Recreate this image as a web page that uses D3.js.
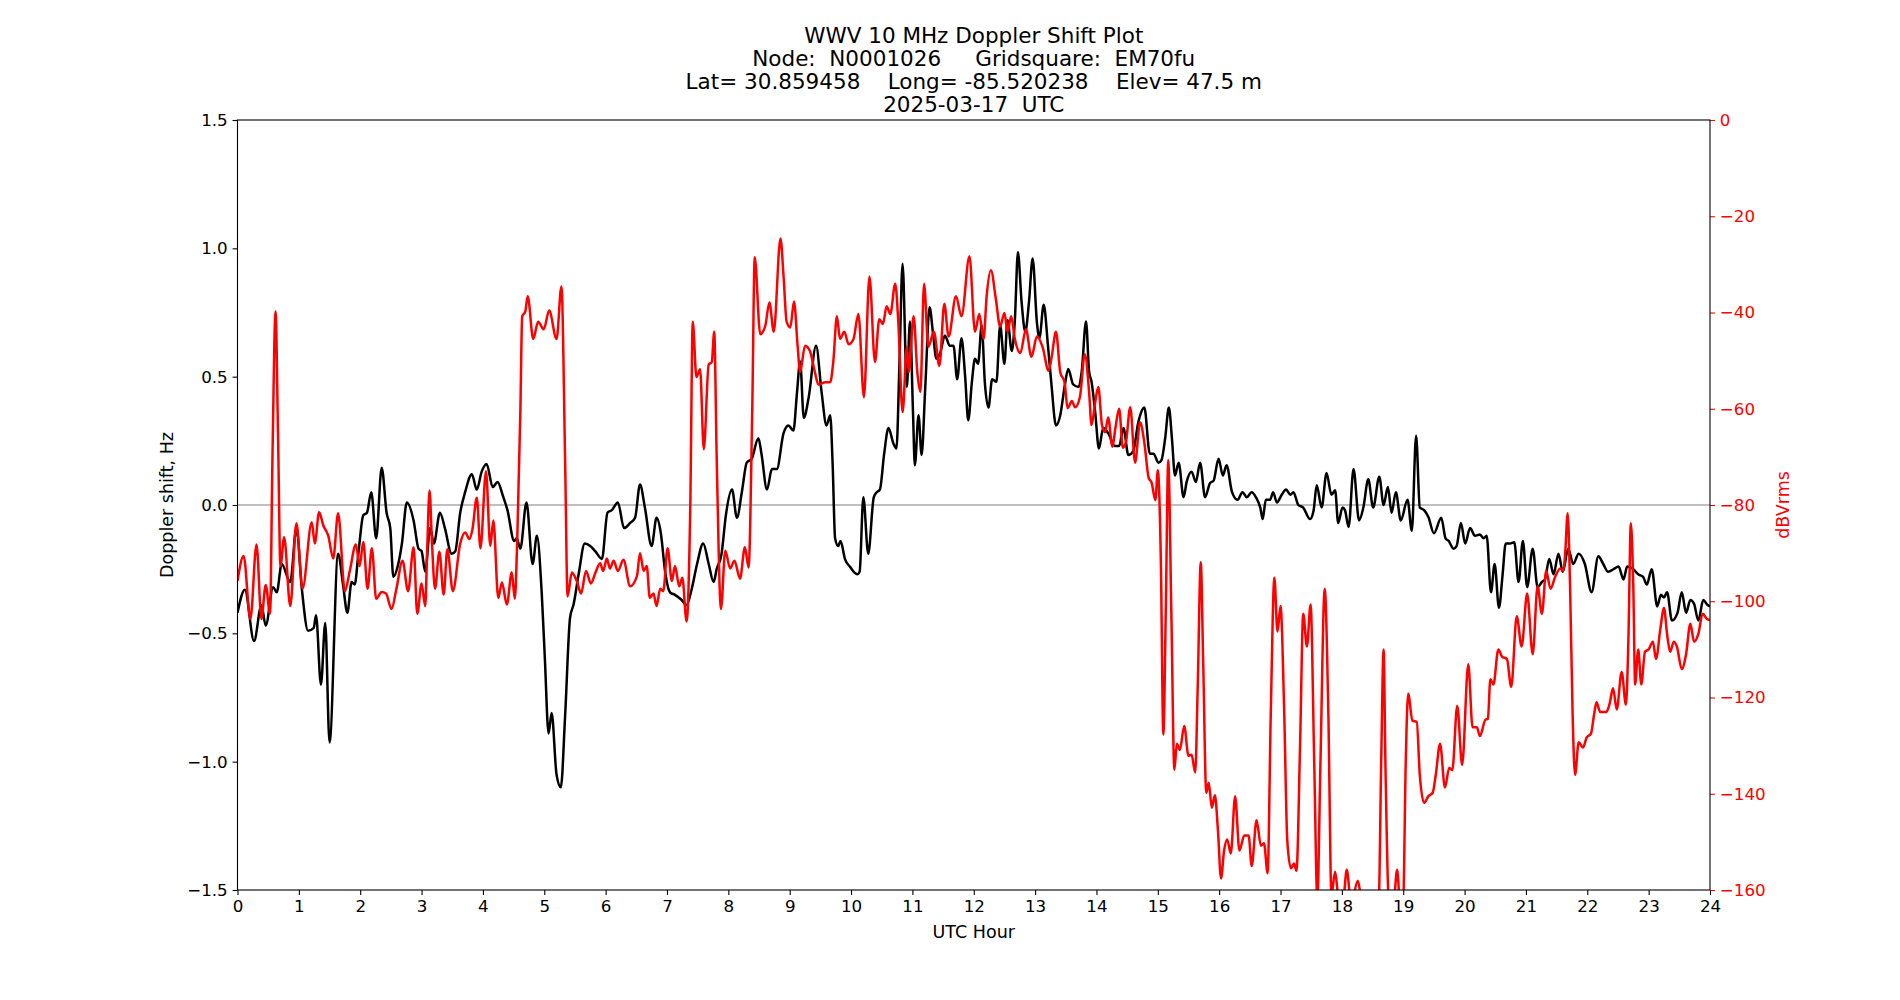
<!DOCTYPE html>
<html>
<head>
<meta charset="utf-8">
<script src="https://cdn.jsdelivr.net/npm/d3@7"></script>
<style>
  body { margin: 0; background: #fff; }
  text { font-family: "DejaVu Sans", sans-serif; }
</style>
</head>
<body>
<div id="chart"></div>
<script>
////////////////////////////////////////////////////////////////////////
// Data: [UTC hour, value]

// Doppler shift (Hz), black trace, left axis
const dopplerPoints = [
  [0.00,-0.42],[0.12,-0.33],[0.27,-0.53],[0.39,-0.39],[0.46,-0.47],[0.58,-0.32],[0.64,-0.34],
  [0.72,-0.23],[0.86,-0.30],[0.96,-0.09],[1.05,-0.33],[1.15,-0.49],[1.24,-0.48],[1.28,-0.43],
  [1.36,-0.70],[1.43,-0.46],[1.50,-0.925],[1.64,-0.19],[1.72,-0.31],[1.79,-0.42],[1.86,-0.30],
  [1.91,-0.31],[1.97,-0.19],[2.05,-0.04],[2.11,-0.03],[2.18,0.05],[2.26,-0.13],[2.35,0.145],
  [2.43,-0.03],[2.49,-0.09],[2.54,-0.28],[2.62,-0.23],[2.68,-0.15],[2.76,0.01],[2.87,-0.06],
  [2.95,-0.17],[3.00,-0.18],[3.06,-0.26],[3.14,-0.09],[3.20,-0.15],[3.30,-0.03],[3.38,-0.09],
  [3.49,-0.19],[3.55,-0.18],[3.63,-0.03],[3.71,0.05],[3.82,0.12],[3.90,0.06],[3.98,0.13],
  [4.06,0.16],[4.16,0.07],[4.24,0.09],[4.32,0.04],[4.40,-0.02],[4.51,-0.14],[4.55,-0.13],
  [4.61,-0.17],[4.71,0.01],[4.81,-0.23],[4.88,-0.12],[4.96,-0.35],[5.01,-0.60],[5.07,-0.89],
  [5.12,-0.81],[5.20,-1.05],[5.27,-1.10],[5.34,-0.82],[5.42,-0.44],[5.48,-0.385],[5.56,-0.27],
  [5.66,-0.15],[5.75,-0.16],[5.83,-0.18],[5.94,-0.21],[6.03,-0.03],[6.10,-0.02],[6.20,0.01],
  [6.30,-0.09],[6.40,-0.07],[6.48,-0.05],[6.56,0.08],[6.64,-0.01],[6.75,-0.16],[6.83,-0.05],
  [6.90,-0.11],[6.97,-0.26],[7.05,-0.34],[7.13,-0.35],[7.24,-0.37],[7.32,-0.39],[7.40,-0.33],
  [7.49,-0.23],[7.59,-0.15],[7.68,-0.23],[7.76,-0.30],[7.81,-0.25],[7.89,-0.19],[7.96,-0.04],
  [8.06,0.06],[8.14,-0.05],[8.22,0.05],[8.30,0.165],[8.38,0.18],[8.49,0.26],[8.54,0.20],
  [8.63,0.06],[8.71,0.14],[8.79,0.14],[8.90,0.28],[8.98,0.31],[9.06,0.29],[9.12,0.44],
  [9.17,0.56],[9.23,0.34],[9.31,0.42],[9.43,0.62],[9.52,0.44],[9.60,0.31],[9.66,0.35],
  [9.70,0.16],[9.74,-0.13],[9.79,-0.16],[9.83,-0.14],[9.90,-0.21],[9.98,-0.24],[10.10,-0.27],
  [10.14,-0.26],[10.20,0.03],[10.28,-0.19],[10.37,0.03],[10.42,0.05],[10.47,0.06],[10.54,0.20],
  [10.61,0.30],[10.69,0.24],[10.74,0.22],[10.79,0.56],[10.84,0.94],[10.91,0.46],[10.96,0.715],
  [11.01,0.36],[11.04,0.155],[11.10,0.35],[11.15,0.195],[11.21,0.46],[11.28,0.77],[11.34,0.66],
  [11.39,0.57],[11.45,0.59],[11.53,0.66],[11.61,0.62],[11.67,0.62],[11.73,0.49],[11.80,0.65],
  [11.86,0.50],[11.91,0.33],[11.97,0.48],[12.02,0.57],[12.07,0.55],[12.13,0.70],[12.18,0.48],
  [12.24,0.38],[12.30,0.49],[12.37,0.48],[12.43,0.70],[12.50,0.55],[12.55,0.72],[12.62,0.60],
  [12.67,0.72],[12.72,0.985],[12.78,0.79],[12.84,0.675],[12.90,0.79],[12.96,0.96],[13.03,0.71],
  [13.07,0.65],[13.14,0.78],[13.21,0.62],[13.27,0.46],[13.34,0.31],[13.41,0.35],[13.48,0.46],
  [13.54,0.53],[13.62,0.47],[13.71,0.46],[13.76,0.52],[13.83,0.715],[13.88,0.52],[13.92,0.48],
  [13.98,0.36],[14.04,0.22],[14.11,0.30],[14.19,0.28],[14.30,0.23],[14.37,0.23],[14.44,0.30],
  [14.52,0.195],[14.60,0.21],[14.68,0.32],[14.78,0.38],[14.87,0.20],[14.93,0.20],[15.01,0.165],
  [15.06,0.175],[15.12,0.26],[15.18,0.38],[15.23,0.26],[15.28,0.115],[15.34,0.165],[15.42,0.03],
  [15.47,0.09],[15.55,0.13],[15.62,0.09],[15.69,0.165],[15.77,0.03],[15.85,0.085],[15.91,0.095],
  [15.99,0.18],[16.06,0.115],[16.12,0.155],[16.21,0.05],[16.30,0.02],[16.38,0.05],[16.45,0.03],
  [16.53,0.05],[16.60,0.03],[16.67,-0.01],[16.71,-0.055],[16.76,0.02],[16.83,0.02],[16.88,0.05],
  [16.94,0.01],[17.02,0.04],[17.09,0.06],[17.16,0.04],[17.21,0.05],[17.29,0.00],[17.37,-0.01],
  [17.48,-0.055],[17.54,-0.02],[17.59,0.077],[17.67,-0.01],[17.75,0.125],[17.83,0.04],[17.89,0.057],
  [17.94,-0.07],[18.01,-0.01],[18.05,-0.02],[18.11,-0.086],[18.19,0.14],[18.28,-0.06],[18.35,-0.01],
  [18.43,0.10],[18.51,-0.01],[18.61,0.11],[18.68,0.00],[18.75,0.07],[18.81,-0.03],[18.88,0.05],
  [18.96,-0.06],[19.07,0.02],[19.14,-0.10],[19.21,0.27],[19.27,-0.01],[19.34,-0.02],[19.41,-0.047],
  [19.50,-0.11],[19.62,-0.05],[19.69,-0.13],[19.74,-0.14],[19.82,-0.17],[19.87,-0.16],[19.94,-0.07],
  [20.01,-0.15],[20.09,-0.09],[20.17,-0.12],[20.25,-0.115],[20.31,-0.13],[20.36,-0.12],[20.43,-0.34],
  [20.49,-0.23],[20.56,-0.40],[20.62,-0.27],[20.67,-0.15],[20.74,-0.15],[20.81,-0.145],[20.88,-0.30],
  [20.95,-0.14],[21.02,-0.32],[21.11,-0.17],[21.19,-0.32],[21.26,-0.30],[21.31,-0.29],[21.38,-0.21],
  [21.45,-0.27],[21.53,-0.19],[21.60,-0.26],[21.69,-0.17],[21.77,-0.23],[21.86,-0.19],[21.96,-0.23],
  [22.07,-0.34],[22.18,-0.20],[22.26,-0.23],[22.34,-0.26],[22.43,-0.25],[22.51,-0.24],[22.59,-0.29],
  [22.65,-0.24],[22.75,-0.25],[22.83,-0.27],[22.91,-0.28],[22.97,-0.31],[23.05,-0.25],[23.14,-0.395],
  [23.20,-0.35],[23.25,-0.36],[23.30,-0.34],[23.38,-0.45],[23.47,-0.42],[23.54,-0.34],[23.61,-0.42],
  [23.68,-0.37],[23.74,-0.385],[23.81,-0.45],[23.89,-0.37],[23.96,-0.39],[24.00,-0.395]
];

// Signal level (dBVrms), red trace, right axis
const signalPoints = [
  [0.00,-95.8],[0.10,-90.6],[0.21,-103.7],[0.31,-88.2],[0.39,-103.7],[0.46,-96.6],[0.53,-102.6],
  [0.57,-70],[0.62,-39.8],[0.66,-65],[0.70,-92.7],[0.76,-86.7],[0.86,-101],[0.96,-83.8],
  [1.06,-97.4],[1.21,-83.6],[1.26,-88],[1.33,-81.5],[1.40,-84.3],[1.48,-86.4],[1.56,-91.1],
  [1.64,-81.7],[1.75,-97.9],[1.83,-93.7],[1.93,-88.2],[1.99,-92.7],[2.05,-87.7],[2.12,-97.4],
  [2.19,-89],[2.26,-99.5],[2.35,-98.1],[2.42,-98.4],[2.51,-101.6],[2.59,-97.4],[2.69,-91.6],
  [2.78,-97.9],[2.87,-88.8],[2.93,-102.6],[3.00,-96.3],[3.06,-101],[3.09,-90],[3.13,-77],
  [3.17,-88],[3.22,-97.4],[3.29,-89.7],[3.36,-98.6],[3.42,-89.2],[3.51,-97.9],[3.63,-88],
  [3.71,-85.7],[3.78,-87.1],[3.83,-85],[3.90,-78.5],[3.96,-89],[4.05,-73],[4.12,-88.5],
  [4.17,-83.2],[4.25,-99.3],[4.31,-96.1],[4.39,-100.7],[4.47,-94],[4.52,-99.5],[4.56,-86.9],
  [4.61,-60.7],[4.64,-40.8],[4.69,-39.8],[4.73,-36.6],[4.82,-45.5],[4.90,-41.9],[4.99,-43.5],
  [5.08,-39.6],[5.20,-45.5],[5.28,-34.6],[5.34,-71],[5.38,-99],[5.45,-94],[5.53,-95.8],
  [5.60,-98.4],[5.68,-93.7],[5.76,-96.3],[5.83,-94.2],[5.91,-92.1],[5.96,-93.7],[6.02,-91.1],
  [6.07,-93.2],[6.13,-91.6],[6.20,-93.7],[6.29,-91.4],[6.40,-96.9],[6.51,-94.8],[6.56,-90],
  [6.62,-93.7],[6.67,-92.7],[6.72,-99.3],[6.78,-98.4],[6.83,-101],[6.89,-97.4],[6.94,-97.9],
  [7.01,-89],[7.08,-95.8],[7.13,-92.7],[7.20,-96.9],[7.25,-95.1],[7.32,-104.2],[7.38,-80],
  [7.42,-41.9],[7.48,-53.4],[7.54,-51.8],[7.60,-68.4],[7.68,-50.8],[7.73,-50.3],[7.77,-44],
  [7.81,-70],[7.88,-101.6],[7.95,-89.5],[8.03,-93.2],[8.10,-91.6],[8.19,-95.3],[8.27,-88.8],
  [8.33,-93],[8.39,-60],[8.43,-28.5],[8.52,-44.5],[8.60,-42.9],[8.67,-37.9],[8.74,-44],
  [8.85,-24.6],[8.90,-32.5],[8.95,-41.9],[9.01,-43.1],[9.07,-37.7],[9.13,-47.1],[9.17,-52.4],
  [9.25,-46.9],[9.33,-48],[9.41,-52.4],[9.47,-55],[9.58,-54.5],[9.66,-54.5],[9.71,-50.3],
  [9.77,-40.8],[9.82,-45.5],[9.89,-44],[9.96,-46.6],[10.04,-45.5],[10.12,-40.3],[10.21,-57.6],
  [10.30,-32.5],[10.39,-50.3],[10.46,-41.4],[10.52,-42.4],[10.58,-38.7],[10.64,-40.3],[10.72,-34],
  [10.77,-41.9],[10.84,-60.7],[10.91,-47.1],[10.94,-52.4],[11.02,-40.8],[11.08,-52.4],[11.13,-56.5],
  [11.19,-34],[11.26,-47.1],[11.35,-44],[11.44,-51.1],[11.52,-38.2],[11.59,-45],[11.71,-36.6],
  [11.80,-40.8],[11.93,-28.3],[12.02,-44],[12.09,-40.3],[12.16,-45.5],[12.21,-36.6],[12.28,-31.2],
  [12.36,-37.2],[12.43,-42.9],[12.50,-40.1],[12.55,-44],[12.61,-40.8],[12.67,-45.5],[12.76,-48.4],
  [12.85,-43.5],[12.94,-49.2],[13.03,-45],[13.12,-47.1],[13.22,-52.1],[13.27,-49.2],[13.34,-44],
  [13.41,-52.4],[13.48,-54.5],[13.53,-59.9],[13.60,-58.4],[13.65,-59.7],[13.73,-57.6],[13.81,-48.7],
  [13.88,-56.5],[13.92,-63.4],[13.98,-58.6],[14.03,-55.5],[14.09,-63.4],[14.14,-64.9],[14.19,-61.8],
  [14.26,-67.9],[14.31,-63.9],[14.37,-60],[14.43,-68.1],[14.48,-67],[14.55,-59.7],[14.63,-71.2],
  [14.71,-62.8],[14.78,-67],[14.85,-74.3],[14.90,-75.4],[14.96,-79],[15.00,-72.8],[15.05,-92],
  [15.09,-127.7],[15.13,-102],[15.17,-70.7],[15.22,-102],[15.27,-135],[15.31,-129.6],[15.36,-130.9],
  [15.43,-125.9],[15.50,-132.1],[15.55,-131.9],[15.61,-135.6],[15.65,-118],[15.70,-91.9],[15.74,-113],
  [15.79,-139.8],[15.83,-137.7],[15.88,-142.9],[15.93,-140.3],[15.98,-147.6],[16.03,-157.6],[16.08,-151.8],
  [16.13,-149.5],[16.19,-152.4],[16.26,-140.5],[16.33,-151.8],[16.41,-148.7],[16.48,-148.7],[16.53,-155],
  [16.61,-145.5],[16.68,-150.8],[16.73,-150.3],[16.79,-156.5],[16.84,-124],[16.90,-95.1],[16.95,-106.3],
  [17.00,-101],[17.06,-123],[17.11,-149.7],[17.17,-155.5],[17.22,-154.5],[17.26,-156],[17.32,-129],
  [17.37,-102.6],[17.43,-109.4],[17.49,-100.7],[17.55,-134],[17.60,-162],[17.65,-134],[17.72,-97.4],
  [17.78,-123.6],[17.83,-161],[17.89,-156.2],[17.94,-161],[18.02,-162],[18.08,-155.8],[18.15,-163],
  [18.26,-158.1],[18.33,-163],[18.49,-166],[18.60,-163],[18.64,-134],[18.68,-110],[18.71,-134],
  [18.77,-163],[18.84,-163],[18.90,-155.8],[18.95,-163],[19.00,-162],[19.04,-134],[19.08,-119.2],
  [19.15,-124.8],[19.22,-125.1],[19.27,-136.1],[19.34,-141.9],[19.41,-140.5],[19.48,-139.8],[19.53,-136.1],
  [19.60,-129.6],[19.68,-138.7],[19.75,-134.6],[19.80,-135.1],[19.88,-121.7],[19.96,-134],[20.06,-113.1],
  [20.13,-126.2],[20.20,-126.2],[20.25,-128],[20.34,-124.6],[20.38,-124.4],[20.42,-116.2],[20.47,-117.3],
  [20.55,-110],[20.61,-111.5],[20.69,-112],[20.76,-117.8],[20.85,-103.1],[20.93,-109.4],[21.02,-98.4],
  [21.11,-111],[21.19,-96.9],[21.26,-102.6],[21.33,-93.7],[21.40,-97.4],[21.48,-94.8],[21.56,-93.2],
  [21.61,-93.7],[21.64,-90],[21.68,-81.7],[21.72,-97.4],[21.76,-123],[21.80,-136.1],[21.86,-129.3],
  [21.93,-130.4],[21.99,-128.3],[22.06,-127.5],[22.11,-123.6],[22.15,-121],[22.21,-123],[22.31,-123],
  [22.36,-121.5],[22.42,-118.1],[22.48,-122.5],[22.56,-114.7],[22.63,-121.5],[22.67,-108],[22.71,-83.8],
  [22.75,-97],[22.78,-117.3],[22.83,-110],[22.88,-117.3],[22.94,-110.5],[23.00,-110],[23.07,-108.4],
  [23.12,-112],[23.19,-105.8],[23.25,-101.4],[23.30,-106.8],[23.35,-110.5],[23.41,-108.4],[23.46,-109.4],
  [23.54,-114.1],[23.61,-111],[23.68,-104.7],[23.74,-108.4],[23.81,-106.8],[23.88,-102.6],[23.95,-103.7],
  [24.00,-103.9]
];

// Axis ticks and text
const hourTicks = d3.range(0, 25, 1);
const dopplerTicks = [-1.5, -1.0, -0.5, 0.0, 0.5, 1.0, 1.5];
const signalTicks = [0, -20, -40, -60, -80, -100, -120, -140, -160];
const titleLines = [
  "WWV 10 MHz Doppler Shift Plot",
  "Node:  N0001026     Gridsquare:  EM70fu",
  "Lat= 30.859458    Long= -85.520238    Elev= 47.5 m",
  "2025-03-17  UTC"
];

////////////////////////////////////////////////////////////////////////
// Layout (matplotlib default axes box on a 1900x1000 figure)

let width = 1900;
let height = 1000;
let margins = { top: 120, right: 190, bottom: 110, left: 237.5 };
let plotW = width - margins.left - margins.right;
let plotH = height - margins.top - margins.bottom;

let svg = d3.select("#chart")
  .append("svg")
  .attr("width", width).attr("height", height);

let plot_g = svg.append("g")
  .attr("transform", "translate(" + margins.left + "," + margins.top + ")");

let xScale = d3.scaleLinear().domain([0, 24]).range([0, plotW]);
let yScale = d3.scaleLinear().domain([-1.5, 1.5]).range([plotH, 0]);
let y2Scale = d3.scaleLinear().domain([-160, 0]).range([plotH, 0]);

svg.append("defs").append("clipPath").attr("id", "clip")
  .append("rect").attr("width", plotW).attr("height", plotH);

// zero reference line
plot_g.append("line")
  .attr("x1", 0).attr("x2", plotW)
  .attr("y1", yScale(0)).attr("y2", yScale(0))
  .attr("stroke", "#808080").attr("stroke-width", 1.2);

let dopplerLine = d3.line()
  .x((d) => xScale(d[0]))
  .y((d) => yScale(d[1]))
  .curve(d3.curveMonotoneX);

let signalLine = d3.line()
  .x((d) => xScale(d[0]))
  .y((d) => y2Scale(d[1]))
  .curve(d3.curveMonotoneX);

let lines_g = plot_g.append("g").attr("clip-path", "url(#clip)");

lines_g.append("path")
  .datum(dopplerPoints)
  .attr("d", dopplerLine)
  .attr("fill", "none")
  .attr("stroke", "black")
  .attr("stroke-width", 2.5)
  .attr("stroke-linejoin", "round");

lines_g.append("path")
  .datum(signalPoints)
  .attr("d", signalLine)
  .attr("fill", "none")
  .attr("stroke", "red")
  .attr("stroke-width", 2.5)
  .attr("stroke-linejoin", "round");

////////////////////////////////////////////////////////////////////////
// Axes

let tickFont = 16.7;
let labelFont = 17.5;

function styleAxis(g, color) {
  g.select(".domain").remove();
  g.selectAll(".tick line").attr("stroke", color).attr("stroke-width", 1.1);
  g.selectAll(".tick text")
    .attr("fill", color)
    .attr("font-size", tickFont)
    .attr("font-family", "DejaVu Sans");
}

let xAxisG = plot_g.append("g")
  .attr("transform", "translate(0," + plotH + ")")
  .call(d3.axisBottom(xScale).tickValues(hourTicks).tickFormat(d3.format("d"))
    .tickSize(4.9).tickPadding(4.9));
styleAxis(xAxisG, "black");

let yAxisG = plot_g.append("g")
  .call(d3.axisLeft(yScale).tickValues(dopplerTicks).tickFormat(d3.format(".1f"))
    .tickSize(4.9).tickPadding(4.9));
styleAxis(yAxisG, "black");

let y2AxisG = plot_g.append("g")
  .attr("transform", "translate(" + plotW + ",0)")
  .call(d3.axisRight(y2Scale).tickValues(signalTicks).tickFormat(d3.format("d"))
    .tickSize(4.9).tickPadding(4.9));
styleAxis(y2AxisG, "red");

// spines
plot_g.append("rect")
  .attr("width", plotW).attr("height", plotH)
  .attr("fill", "none").attr("stroke", "black").attr("stroke-width", 1.1);

// axis labels
plot_g.append("text")
  .attr("x", plotW / 2)
  .attr("y", plotH + 48)
  .attr("text-anchor", "middle")
  .attr("font-size", labelFont)
  .text("UTC Hour");

plot_g.append("text")
  .attr("transform", "rotate(-90)")
  .attr("x", -plotH / 2)
  .attr("y", -65)
  .attr("text-anchor", "middle")
  .attr("font-size", labelFont)
  .text("Doppler shift, Hz");

plot_g.append("text")
  .attr("transform", "rotate(-90)")
  .attr("x", -plotH / 2)
  .attr("y", plotW + 79)
  .attr("text-anchor", "middle")
  .attr("font-size", labelFont)
  .attr("fill", "red")
  .text("dBVrms");

// title, last line baseline sits just above the axes
let titleSize = 21.5;
let titleGap = 23;
plot_g.append("g")
  .selectAll("text")
  .data(titleLines)
  .enter()
  .append("text")
  .attr("x", plotW / 2)
  .attr("y", (d, i) => -8.3 - (titleLines.length - 1 - i) * titleGap)
  .attr("text-anchor", "middle")
  .attr("font-size", titleSize)
  .attr("xml:space", "preserve")
  .style("white-space", "pre")
  .text((d) => d);
</script>
</body>
</html>
